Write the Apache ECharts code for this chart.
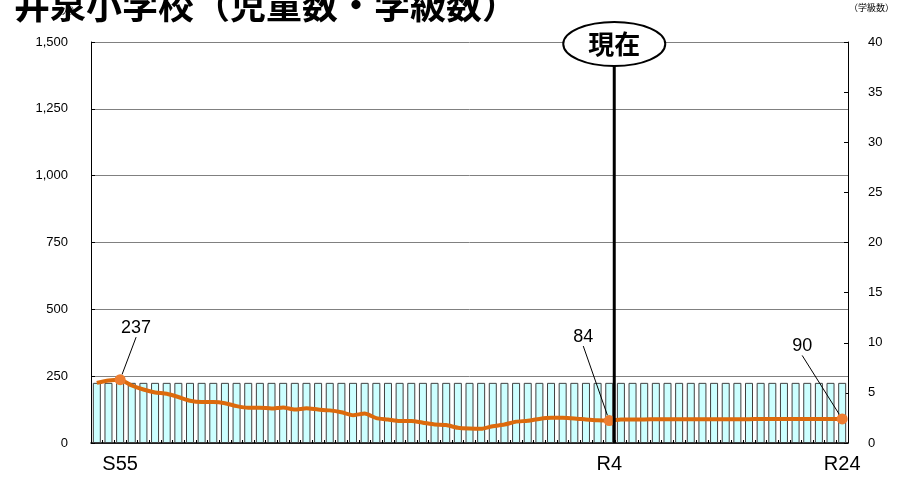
<!DOCTYPE html>
<html><head><meta charset="utf-8">
<script src="https://cdn.jsdelivr.net/npm/echarts@6/dist/echarts.min.js"></script>
<style>html,body{margin:0;padding:0;background:#fff}#c{width:903px;height:483px}</style>
</head><body><div id="c"></div>
<script>
const titleText = '井泉小学校（児童数・学級数）';
const categories = ['S53','S54','S55','S56','S57','S58','S59','S60','S61','S62','S63',
 'H1','H2','H3','H4','H5','H6','H7','H8','H9','H10','H11','H12','H13','H14','H15','H16','H17','H18','H19','H20',
 'H21','H22','H23','H24','H25','H26','H27','H28','H29','H30','R1','R2','R3','R4','R5','R6','R7','R8','R9','R10',
 'R11','R12','R13','R14','R15','R16','R17','R18','R19','R20','R21','R22','R23','R24'];
const students = [225,234,237,215,200,189,184,172,158,153,153,149,138,132,132,129,133,125,130,125,
 122,115,104,110,93,88,82,82,76,69,67,57,54,53,63,69,80,83,90,94,94,92,88,85,84,
 88,88,88,89,89,89,89,89,89,89,89,89,90,90,90,90,90,90,90,90];
const classes = [6,6,6,6,6,6,6,6,6,6,6,6,6,6,6,6,6,6,6,6,6,6,6,6,6,6,6,6,6,6,6,6,6,6,6,6,6,6,6,6,6,6,6,6,6,
 6,6,6,6,6,6,6,6,6,6,6,6,6,6,6,6,6,6,6,6];
const shownLabels = ['S55','R4','R24'];
const highlighted = {'S55':[16,-32],'R4':[-26,-64],'R24':[-40,-53]};
const currentCat = 'R4';
const leftTicks = [0,1500,250];
const rightTicks = [0,40,5];

const chart = echarts.init(document.getElementById('c'));
const numFont = '"Liberation Sans", Arial, sans-serif';
const lineData = students.map((v,i)=>{
  const c = categories[i];
  if (highlighted[c]) return {value:v, symbol:'circle', symbolSize:11,
     label:{show:true}, itemStyle:{color:'#ED7D31'}};
  return {value:v};
});
const baseGraphics = [
  {type:'text',left:14,top:-13,style:{text:titleText,font:'bold 36px "Noto Sans CJK JP"',fill:'#000'}},
  {type:'text',left:53,top:6,style:{text:'（人）',font:'9px "Noto Sans CJK JP"',fill:'#000'}},
  {type:'text',left:849,top:3,style:{text:'（学級数）',font:'9px "Noto Sans CJK JP"',fill:'#000'}}
];
chart.setOption({
  animation:false,
  grid:{left:91,right:55,top:42,bottom:40},
  graphic:baseGraphics,
  xAxis:{type:'category',data:categories,boundaryGap:true,
    axisLine:{lineStyle:{color:'#000',width:1.5}},
    axisTick:{show:true,inside:true,length:3,interval:0,lineStyle:{color:'#000'}},
    axisLabel:{interval:0,margin:11,fontSize:20,color:'#000',fontFamily:numFont,
      formatter:(v)=>shownLabels.includes(v)?v:''}},
  yAxis:[
    {type:'value',min:leftTicks[0],max:leftTicks[1],interval:leftTicks[2],
     axisLine:{show:true,lineStyle:{color:'#000'}},
     axisTick:{show:true,inside:true,length:4,lineStyle:{color:'#000'}},
     axisLabel:{color:'#000',fontSize:13,fontFamily:numFont,margin:23,
       formatter:(v)=>v.toLocaleString('en-US')},
     splitLine:{show:true,lineStyle:{color:'#808080',width:1}}},
    {type:'value',min:rightTicks[0],max:rightTicks[1],interval:rightTicks[2],position:'right',
     axisLine:{show:true,lineStyle:{color:'#000'}},
     axisTick:{show:true,inside:true,length:4,lineStyle:{color:'#000'}},
     axisLabel:{color:'#000',fontSize:13,fontFamily:numFont,margin:20},
     splitLine:{show:false}}
  ],
  series:[
    {type:'bar',yAxisIndex:1,data:classes,barWidth:8,
     itemStyle:{color:'#CCFFFF',borderColor:'#404040',borderWidth:1},z:1},
    {type:'line',yAxisIndex:0,data:lineData,smooth:0.2,symbol:'none',showSymbol:true,
     lineStyle:{color:'#DC6A0C',width:4},itemStyle:{color:'#DC6A0C'},z:3,
     label:{show:false,position:'top',color:'#000',fontSize:18,fontFamily:numFont},
     labelLine:{show:true,lineStyle:{color:'#000',width:1}},
     labelLayout:(p)=>{const o=highlighted[categories[p.dataIndex]]; return o?{dx:o[0],dy:o[1]}:{};}}
  ]
});

function drawCurrent(){
  const idx = categories.indexOf(currentCat);
  const x = chart.convertToPixel({xAxisIndex:0}, idx) + 5;
  const yTop = chart.convertToPixel({yAxisIndex:0}, leftTicks[1]);
  const yBot = chart.convertToPixel({yAxisIndex:0}, leftTicks[0]);
  const cy = yTop + 2;
  chart.setOption({graphic:baseGraphics.concat([
    {type:'line',z:20,shape:{x1:x,y1:cy+22,x2:x,y2:yBot},style:{stroke:'#000',lineWidth:3}},
    {type:'ellipse',z:20,shape:{cx:x,cy:cy,rx:51,ry:22},style:{fill:'#fff',stroke:'#000',lineWidth:2}},
    {type:'text',z:21,x:x,y:cy,style:{text:'現在',font:'bold 26px "Noto Sans CJK JP"',fill:'#000',align:'center',verticalAlign:'middle'}}
  ])}, {replaceMerge:['graphic']});
}
drawCurrent();
</script></body></html>
